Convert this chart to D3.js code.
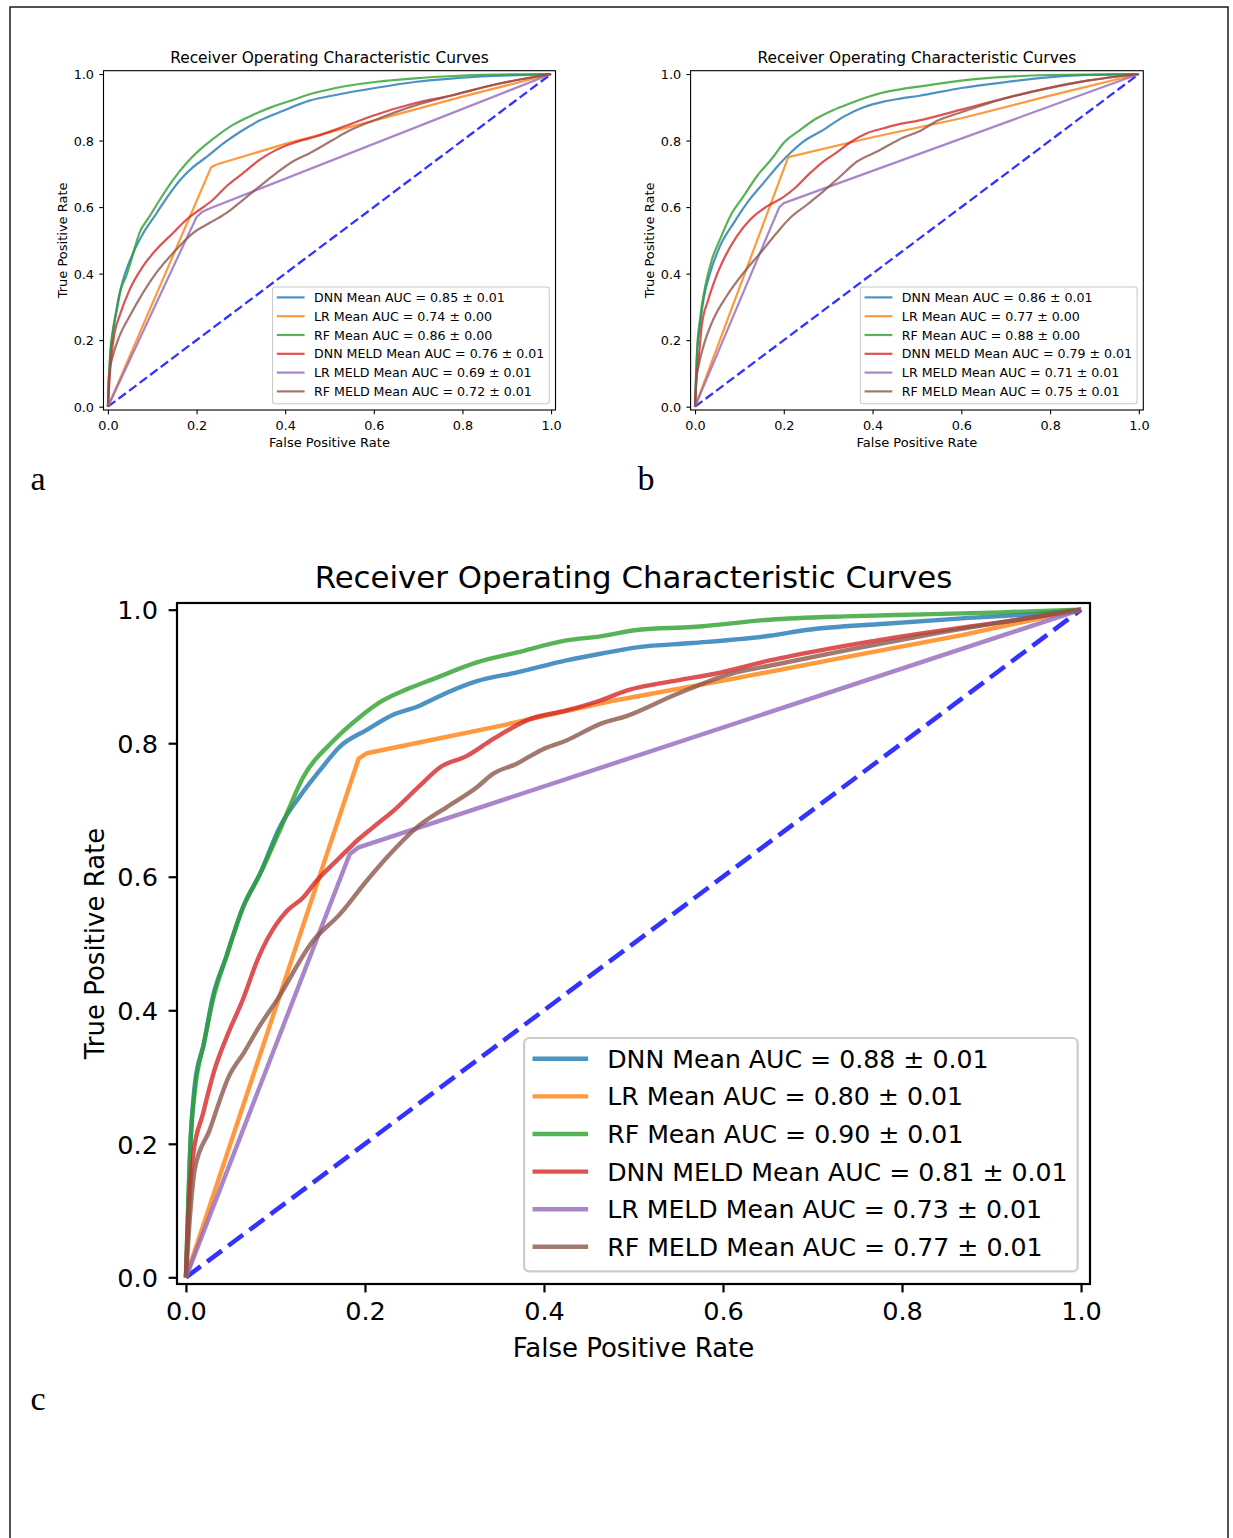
<!DOCTYPE html>
<html>
<head>
<meta charset="utf-8">
<script src="https://cdn.jsdelivr.net/npm/d3@7"></script>
<style>
  body { margin: 0; background: #ffffff; }
  svg { display: block; }
  text { font-family: "DejaVu Sans", sans-serif; fill: #000; }
</style>
</head>
<body>
<div id="vis"></div>
<script>

// ---- data ----
const seriesNames = ["DNN", "LR", "RF", "DNN MELD", "LR MELD", "RF MELD"];
const seriesColors = ["#1f77b4", "#ff7f0e", "#2ca02c", "#d62728", "#9467bd", "#8c564b"];
const tickValues = [0, 0.2, 0.4, 0.6, 0.8, 1.0];
const panelTitle = "Receiver Operating Characteristic Curves";

const aucA = ["0.85 ± 0.01", "0.74 ± 0.00", "0.86 ± 0.00", "0.76 ± 0.01", "0.69 ± 0.01", "0.72 ± 0.01"];
const aucB = ["0.86 ± 0.01", "0.77 ± 0.00", "0.88 ± 0.00", "0.79 ± 0.01", "0.71 ± 0.01", "0.75 ± 0.01"];
const aucC = ["0.88 ± 0.01", "0.80 ± 0.01", "0.90 ± 0.01", "0.81 ± 0.01", "0.73 ± 0.01", "0.77 ± 0.01"];

// panel a  [fpr, tpr]
const aDNN = [[0,0],[0.005,0.15],[0.01,0.21],[0.023,0.32],[0.034,0.38],[0.056,0.46],[0.079,0.52],[0.109,0.58],[0.139,0.64],[0.162,0.68],[0.192,0.72],[0.222,0.75],[0.259,0.79],[0.297,0.825],[0.342,0.86],[0.387,0.885],[0.455,0.92],[0.514,0.937],[0.603,0.958],[0.692,0.976],[0.78,0.987],[0.869,0.994],[1,1]];
const aLR = [[0,0],[0.233,0.72],[0.245,0.728],[0.4,0.79],[0.6,0.86],[0.8,0.932],[1,1]];
const aRF = [[0,0],[0.005,0.16],[0.01,0.222],[0.019,0.282],[0.029,0.352],[0.041,0.392],[0.053,0.442],[0.071,0.522],[0.094,0.572],[0.117,0.622],[0.147,0.682],[0.177,0.732],[0.207,0.772],[0.244,0.812],[0.282,0.847],[0.327,0.877],[0.372,0.902],[0.417,0.922],[0.455,0.939],[0.514,0.958],[0.603,0.976],[0.692,0.987],[0.78,0.994],[0.869,0.998],[1,1]];
const aDNNMeld = [[0,0],[0.004,0.092],[0.015,0.222],[0.026,0.272],[0.049,0.352],[0.079,0.422],[0.109,0.472],[0.147,0.522],[0.177,0.562],[0.207,0.592],[0.237,0.622],[0.267,0.662],[0.305,0.702],[0.342,0.742],[0.38,0.772],[0.417,0.792],[0.469,0.812],[0.532,0.842],[0.603,0.877],[0.692,0.912],[0.78,0.937],[0.869,0.967],[1,1]];
const aLRMeld = [[0,0],[0.2,0.57],[0.212,0.585],[0.228,0.595],[1,1]];
const aRFMeld = [[0,0],[0.002,0.092],[0.011,0.152],[0.026,0.212],[0.049,0.272],[0.079,0.342],[0.109,0.402],[0.147,0.462],[0.192,0.522],[0.229,0.552],[0.267,0.582],[0.305,0.622],[0.342,0.662],[0.38,0.702],[0.417,0.737],[0.455,0.762],[0.505,0.8],[0.545,0.83],[0.603,0.862],[0.692,0.905],[0.78,0.937],[0.869,0.967],[1,1]];

// panel b
const bDNN = [[0,0],[0.005,0.17],[0.011,0.242],[0.019,0.322],[0.034,0.402],[0.056,0.482],[0.087,0.552],[0.117,0.612],[0.154,0.672],[0.192,0.732],[0.214,0.762],[0.244,0.797],[0.289,0.832],[0.335,0.872],[0.38,0.9],[0.425,0.917],[0.462,0.926],[0.503,0.934],[0.6,0.958],[0.707,0.977],[0.795,0.99],[0.884,0.997],[1,1]];
const bLR = [[0,0],[0.21,0.75],[0.4,0.81],[0.6,0.867],[0.8,0.935],[1,1]];
const bRF = [[0,0],[0.005,0.18],[0.011,0.262],[0.023,0.362],[0.038,0.442],[0.056,0.502],[0.079,0.572],[0.109,0.632],[0.139,0.692],[0.177,0.752],[0.199,0.792],[0.237,0.832],[0.274,0.867],[0.312,0.892],[0.35,0.912],[0.387,0.93],[0.425,0.945],[0.462,0.954],[0.503,0.962],[0.6,0.98],[0.707,0.992],[0.795,0.997],[1,1]];
const bDNNMeld = [[0,0],[0.004,0.1],[0.008,0.142],[0.015,0.242],[0.03,0.322],[0.045,0.382],[0.068,0.452],[0.094,0.512],[0.124,0.562],[0.162,0.602],[0.199,0.63],[0.229,0.662],[0.259,0.702],[0.289,0.737],[0.32,0.765],[0.35,0.795],[0.387,0.822],[0.425,0.837],[0.462,0.85],[0.503,0.86],[0.6,0.893],[0.662,0.915],[0.707,0.93],[0.795,0.957],[0.884,0.98],[1,1]];
const bLRMeld = [[0,0],[0.19,0.6],[0.2,0.612],[1,1]];
const bRFMeld = [[0,0],[0.003,0.08],[0.008,0.122],[0.019,0.182],[0.041,0.262],[0.071,0.332],[0.109,0.402],[0.147,0.462],[0.184,0.522],[0.214,0.567],[0.252,0.607],[0.289,0.647],[0.327,0.692],[0.365,0.737],[0.41,0.767],[0.458,0.802],[0.511,0.832],[0.547,0.86],[0.6,0.885],[0.662,0.912],[0.707,0.93],[0.795,0.958],[0.884,0.98],[1,1]];

// panel c
const cDNN = [[0,0],[0.005,0.2],[0.01,0.29],[0.02,0.35],[0.03,0.42],[0.045,0.48],[0.064,0.555],[0.083,0.605],[0.105,0.675],[0.127,0.72],[0.15,0.76],[0.172,0.795],[0.202,0.82],[0.232,0.843],[0.261,0.856],[0.276,0.866],[0.325,0.893],[0.37,0.906],[0.425,0.924],[0.463,0.934],[0.506,0.944],[0.566,0.95],[0.652,0.961],[0.695,0.97],[0.781,0.979],[0.867,0.987],[0.953,0.994],[1,1]];
const cLR = [[0,0],[0.193,0.777],[0.202,0.785],[0.351,0.826],[0.479,0.864],[0.609,0.896],[0.737,0.929],[0.867,0.962],[1,1]];
const cRF = [[0,0],[0.005,0.2],[0.01,0.28],[0.02,0.35],[0.03,0.415],[0.045,0.48],[0.064,0.555],[0.083,0.605],[0.105,0.67],[0.131,0.749],[0.165,0.804],[0.194,0.839],[0.22,0.864],[0.247,0.881],[0.276,0.896],[0.325,0.921],[0.37,0.936],[0.425,0.954],[0.463,0.96],[0.506,0.97],[0.566,0.974],[0.652,0.985],[0.737,0.99],[0.823,0.993],[0.91,0.996],[1,1]];
const cDNNMeld = [[0,0],[0.004,0.12],[0.008,0.183],[0.019,0.245],[0.032,0.311],[0.048,0.368],[0.063,0.414],[0.081,0.479],[0.101,0.529],[0.113,0.549],[0.131,0.569],[0.146,0.594],[0.172,0.629],[0.187,0.649],[0.209,0.674],[0.232,0.699],[0.261,0.736],[0.284,0.764],[0.314,0.781],[0.343,0.806],[0.384,0.836],[0.425,0.849],[0.463,0.864],[0.493,0.879],[0.549,0.894],[0.591,0.904],[0.652,0.924],[0.716,0.941],[0.781,0.956],[0.845,0.969],[0.91,0.981],[1,1]];
const cLRMeld = [[0,0],[0.183,0.634],[0.193,0.644],[1,1]];
const cRFMeld = [[0,0],[0.005,0.1],[0.01,0.163],[0.026,0.219],[0.048,0.301],[0.065,0.337],[0.083,0.378],[0.101,0.414],[0.142,0.504],[0.172,0.544],[0.202,0.594],[0.228,0.634],[0.258,0.674],[0.291,0.704],[0.325,0.734],[0.343,0.754],[0.369,0.769],[0.399,0.791],[0.425,0.804],[0.463,0.829],[0.493,0.841],[0.549,0.874],[0.609,0.904],[0.652,0.916],[0.737,0.939],[0.823,0.961],[0.91,0.981],[1,1]];

// ---- drawing ----
const svg = d3.select("#vis").append("svg")
    .attr("width", 1233)
    .attr("height", 1538);

// outer frame of the figure
svg.append("rect")
    .attr("x", 10).attr("y", 7)
    .attr("width", 1218).attr("height", 1600)
    .attr("fill", "none")
    .attr("stroke", "#1a1a1a")
    .attr("stroke-width", 1.5);

const panels = [
    { x0: 103.5, x1: 555.5, y0: 70.7, y1: 410, k: 1, tickBase: 20, letter: "a", lx: 30.5, ly: 490,
      curves: [aDNN, aLR, aRF, aDNNMeld, aLRMeld, aRFMeld], auc: aucA },
    { x0: 690.6, x1: 1143.3, y0: 70.7, y1: 410, k: 1, tickBase: 20, letter: "b", lx: 637.5, ly: 490,
      curves: [bDNN, bLR, bRF, bDNNMeld, bLRMeld, bRFMeld], auc: aucB },
    { x0: 177, x1: 1090, y0: 603, y1: 1284, k: 2, tickBase: 36, letter: "c", lx: 30.5, ly: 1410,
      curves: [cDNN, cLR, cRF, cDNNMeld, cLRMeld, cRFMeld], auc: aucC }
];

function drawPanel(p) {
    const k = p.k;
    const g = svg.append("g");

    const x = d3.scaleLinear().domain([-0.01, 1.01]).range([p.x0, p.x1]);
    const y = d3.scaleLinear().domain([-0.01, 1.01]).range([p.y1, p.y0]);

    const fmt = d3.format(".1f");
    const tickSize = 4.2 * k;

    // chance line first, curves on top
    g.append("path")
        .datum([[0, 0], [1, 1]])
        .attr("d", d3.line().x(d => x(d[0])).y(d => y(d[1])))
        .attr("fill", "none")
        .attr("stroke", "#0000ff")
        .attr("stroke-opacity", 0.8)
        .attr("stroke-width", 2.3 * k)
        .attr("stroke-dasharray", (9.2 * k) + "," + (4 * k));

    // LR curves keep their sharp corner, others get a light smoothing
    const straight = d3.line().x(d => x(d[0])).y(d => y(d[1]));
    const smooth = d3.line().x(d => x(d[0])).y(d => y(d[1])).curve(d3.curveMonotoneX);

    p.curves.forEach((c, i) => {
        g.append("path")
            .datum(c)
            .attr("d", (i === 1 || i === 4) ? straight : smooth)
            .attr("fill", "none")
            .attr("stroke", seriesColors[i])
            .attr("stroke-opacity", 0.8)
            .attr("stroke-width", 2.2 * k)
            .attr("stroke-linejoin", "round");
    });

    // axes
    const xAxis = g.append("g")
        .attr("transform", "translate(0," + p.y1 + ")")
        .call(d3.axisBottom(x).tickValues(tickValues).tickFormat(fmt).tickSize(tickSize).tickPadding(0));
    const yAxis = g.append("g")
        .attr("transform", "translate(" + p.x0 + ",0)")
        .call(d3.axisLeft(y).tickValues(tickValues).tickFormat(fmt).tickSize(tickSize).tickPadding(0));

    [xAxis, yAxis].forEach(ax => {
        ax.select(".domain").remove();
        ax.selectAll(".tick line").attr("stroke", "#000").attr("stroke-width", 1.1 * k);
        ax.selectAll(".tick text")
            .style("font-family", "DejaVu Sans")
            .style("font-size", (12.8 * k) + "px")
            .attr("fill", "#000");
    });
    xAxis.selectAll(".tick text").attr("y", p.tickBase).attr("dy", 0);
    yAxis.selectAll(".tick text").attr("x", -9.5 * k).attr("dy", "0.36em");

    // spines
    g.append("rect")
        .attr("x", p.x0).attr("y", p.y0)
        .attr("width", p.x1 - p.x0).attr("height", p.y1 - p.y0)
        .attr("fill", "none")
        .attr("stroke", "#000")
        .attr("stroke-width", 1.1 * k);

    // title and labels
    g.append("text")
        .attr("x", (p.x0 + p.x1) / 2)
        .attr("y", p.y0 - 7.3 * k)
        .attr("text-anchor", "middle")
        .style("font-size", (15.4 * k) + "px")
        .text(panelTitle);

    g.append("text")
        .attr("x", (p.x0 + p.x1) / 2)
        .attr("y", p.y1 + 36.5 * k)
        .attr("text-anchor", "middle")
        .style("font-size", (13 * k) + "px")
        .text("False Positive Rate");

    g.append("text")
        .attr("transform", "translate(" + (p.x0 - 36.7 * k) + "," + ((p.y0 + p.y1) / 2) + ") rotate(-90)")
        .attr("text-anchor", "middle")
        .style("font-size", (13 * k) + "px")
        .text("True Positive Rate");

    // legend
    const leg = g.append("g");
    const box = leg.append("rect");
    const rowH = 18.8 * k;
    const top = 10.4 * k;
    let maxW = 0;
    seriesNames.forEach((name, i) => {
        const ry = top + i * rowH;
        leg.append("line")
            .attr("x1", 4.2 * k).attr("x2", 32 * k)
            .attr("y1", ry).attr("y2", ry)
            .attr("stroke", seriesColors[i])
            .attr("stroke-opacity", 0.8)
            .attr("stroke-width", 2.2 * k);
        const t = leg.append("text")
            .attr("x", 41.5 * k)
            .attr("y", ry)
            .attr("dy", "0.36em")
            .style("font-size", (12.6 * k) + "px")
            .text(name + " Mean AUC = " + p.auc[i]);
        maxW = Math.max(maxW, t.node().getComputedTextLength());
    });
    const boxW = 41.5 * k + maxW + 5 * k;
    const boxH = top + 5 * rowH + 12.3 * k;
    box.attr("width", boxW).attr("height", boxH)
        .attr("rx", 2.5 * k).attr("ry", 2.5 * k)
        .attr("fill", "#fff").attr("fill-opacity", 0.8)
        .attr("stroke", "#cccccc")
        .attr("stroke-width", 1.1 * k);
    leg.attr("transform", "translate(" + (p.x1 - 6.2 * k - boxW) + "," + (p.y1 - 6.3 * k - boxH) + ")");

    // panel letter
    svg.append("text")
        .attr("x", p.lx).attr("y", p.ly)
        .style("font-family", "'Liberation Serif', 'Times New Roman', serif")
        .style("font-size", "34px")
        .text(p.letter);
}

panels.forEach(drawPanel);

</script>
</body>
</html>
